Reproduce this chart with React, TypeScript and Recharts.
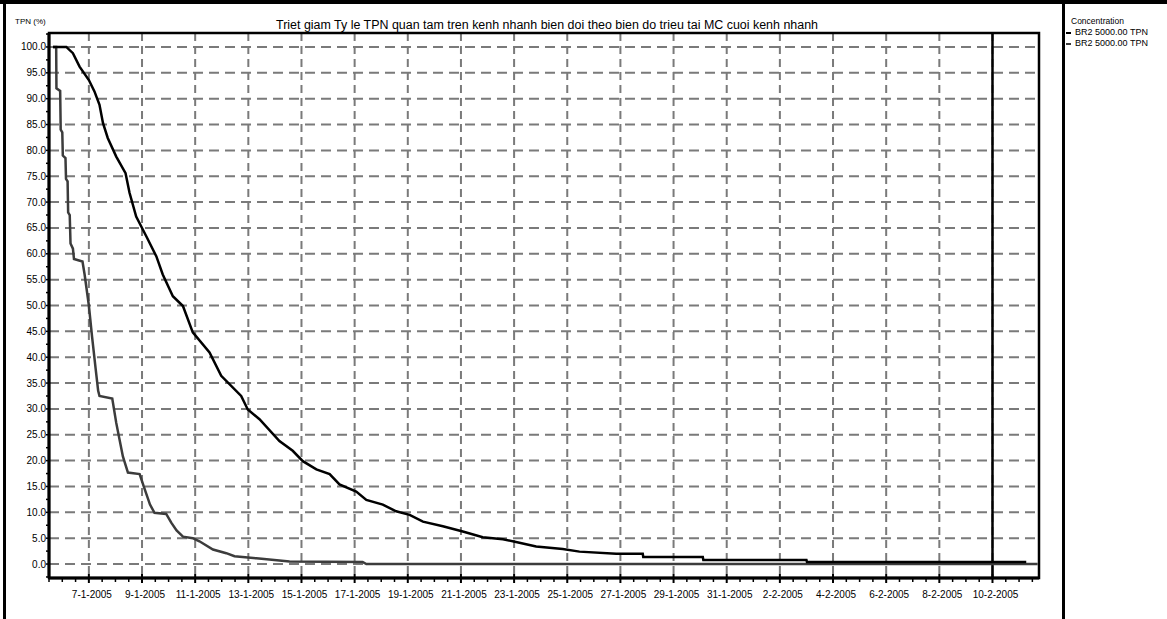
import { CartesianGrid, Line, LineChart, ReferenceArea, ReferenceLine, XAxis, YAxis } from "recharts";

const FONT = "'Liberation Sans', Arial, sans-serif";

const chartTitle =
  "Triet giam Ty le TPN quan tam tren kenh nhanh bien doi theo bien do trieu tai MC cuoi kenh nhanh";
const yAxisTitle = "TPN (%)";
const legendTitle = "Concentration";
const seriesNames = ["BR2 5000.00 TPN", "BR2 5000.00 TPN"];
const seriesColors = ["#000000", "#3c3c3c"];

// x is the day counted from 1-1-2005 (7 = 7-1-2005, 41 = 10-2-2005)
const xTickDays = [7, 9, 11, 13, 15, 17, 19, 21, 23, 25, 27, 29, 31, 33, 35, 37, 39, 41];
const xTickLabels = [
  "7-1-2005", "9-1-2005", "11-1-2005", "13-1-2005", "15-1-2005", "17-1-2005",
  "19-1-2005", "21-1-2005", "23-1-2005", "25-1-2005", "27-1-2005", "29-1-2005",
  "31-1-2005", "2-2-2005", "4-2-2005", "6-2-2005", "8-2-2005", "10-2-2005",
];
const yTickValues = [0, 5, 10, 15, 20, 25, 30, 35, 40, 45, 50, 55, 60, 65, 70, 75, 80, 85, 90, 95, 100];
const nowDay = 41;

// black curve (slow decay)
const seriesSlow = [
  { d: 5.65, v: 100 }, { d: 6.15, v: 100 }, { d: 6.4, v: 98.8 }, { d: 6.65, v: 96.2 },
  { d: 7.0, v: 93.6 }, { d: 7.21, v: 91.4 }, { d: 7.4, v: 88.8 }, { d: 7.53, v: 85.3 },
  { d: 7.71, v: 82.4 }, { d: 8.03, v: 78.8 }, { d: 8.38, v: 75.6 }, { d: 8.53, v: 71.8 },
  { d: 8.78, v: 67.2 }, { d: 9.16, v: 63.4 }, { d: 9.54, v: 59.5 }, { d: 9.78, v: 56 },
  { d: 10.16, v: 51.8 }, { d: 10.54, v: 49.9 }, { d: 10.91, v: 44.8 }, { d: 11.54, v: 40.9 },
  { d: 11.98, v: 36.4 }, { d: 12.73, v: 32.5 }, { d: 12.98, v: 29.9 }, { d: 13.42, v: 28 },
  { d: 14.17, v: 23.8 }, { d: 14.67, v: 21.9 }, { d: 15.05, v: 19.9 }, { d: 15.56, v: 18.3 },
  { d: 16.06, v: 17.4 }, { d: 16.43, v: 15.4 }, { d: 17.06, v: 14.0 }, { d: 17.44, v: 12.4 },
  { d: 18.06, v: 11.5 }, { d: 18.56, v: 10.2 }, { d: 19.07, v: 9.5 }, { d: 19.57, v: 8.2 },
  { d: 20.32, v: 7.3 }, { d: 21.07, v: 6.3 }, { d: 21.82, v: 5.2 }, { d: 22.58, v: 4.8 },
  { d: 23.2, v: 4.1 }, { d: 23.83, v: 3.4 }, { d: 24.83, v: 2.9 }, { d: 25.46, v: 2.4 },
  { d: 26.84, v: 2.0 }, { d: 27.84, v: 2.0 }, { d: 27.86, v: 1.35 }, { d: 30.1, v: 1.35 },
  { d: 30.12, v: 0.8 }, { d: 34.0, v: 0.8 }, { d: 34.02, v: 0.4 }, { d: 42.27, v: 0.4 },
];

// dark grey curve (fast decay)
const seriesFast = [
  { d: 5.65, v: 100 }, { d: 5.77, v: 100 }, { d: 5.78, v: 92 }, { d: 5.92, v: 91.5 },
  { d: 5.94, v: 84 }, { d: 6.0, v: 83.5 }, { d: 6.02, v: 79 }, { d: 6.12, v: 78.5 },
  { d: 6.14, v: 74.5 }, { d: 6.2, v: 74 }, { d: 6.22, v: 68 }, { d: 6.28, v: 67.5 },
  { d: 6.31, v: 62 }, { d: 6.4, v: 61 }, { d: 6.44, v: 59 }, { d: 6.76, v: 58.5 },
  { d: 6.84, v: 56 }, { d: 7.0, v: 50 }, { d: 7.12, v: 44 }, { d: 7.25, v: 38 },
  { d: 7.35, v: 33.5 }, { d: 7.4, v: 32.5 }, { d: 7.88, v: 32 }, { d: 8.03, v: 27.3 },
  { d: 8.28, v: 20.8 }, { d: 8.47, v: 17.7 }, { d: 8.91, v: 17.4 }, { d: 9.1, v: 14.5 },
  { d: 9.3, v: 11.5 }, { d: 9.47, v: 9.9 }, { d: 9.91, v: 9.7 }, { d: 10.1, v: 8 },
  { d: 10.3, v: 6.5 }, { d: 10.54, v: 5.3 }, { d: 10.91, v: 5.0 }, { d: 11.16, v: 4.4 },
  { d: 11.67, v: 2.8 }, { d: 12.17, v: 2.1 }, { d: 12.48, v: 1.5 }, { d: 13.3, v: 1.1 },
  { d: 13.5, v: 1.0 }, { d: 14.55, v: 0.5 }, { d: 17.3, v: 0.4 }, { d: 17.44, v: 0 },
  { d: 42.7, v: 0 },
];

const X_DOMAIN: [number, number] = [5.5, 42.75];
const Y_DOMAIN: [number, number] = [-2.7, 102.7];

const xAllTicks: number[] = [];
for (let t = 5.5; t <= 42.5; t += 0.5) xAllTicks.push(t);
const yAllTicks: number[] = [];
for (let t = -2.5; t <= 102.5; t += 2.5) yAllTicks.push(t);

function XTick(props: any) {
  const { x, y, payload } = props;
  const idx = xTickDays.indexOf(payload.value);
  if (idx < 0) {
    return <line x1={x} x2={x} y1={y + 1} y2={y + 4} stroke="#000" strokeWidth={1.5} />;
  }
  return (
    <g>
      <line x1={x} x2={x} y1={y - 4} y2={y + 5} stroke="#000" strokeWidth={2} />
      <text x={x + 3} y={y + 20} textAnchor="middle" fontSize={10} fontFamily={FONT} fill="#000">
        {xTickLabels[idx]}
      </text>
    </g>
  );
}

function YTick(props: any) {
  const { x, y, payload } = props;
  const v = payload.value as number;
  const major = Math.abs(v % 5) < 1e-6;
  return (
    <g>
      <line x1={x - 3} x2={x} y1={y} y2={y} stroke="#000" strokeWidth={1.5} />
      {major && v >= 0 && v <= 100 && (
        <text x={x - 3} y={y + 3.5} textAnchor="end" fontSize={10} fontFamily={FONT} fill="#000">
          {v.toFixed(1)}
        </text>
      )}
    </g>
  );
}

export default function App() {
  return (
    <div style={{ position: "absolute", left: 0, top: 0, width: 1167, height: 619, background: "#fff" }}>
      <LineChart width={1167} height={619} margin={{ top: 33, right: 128, bottom: 0, left: 0 }}>
        <CartesianGrid
          vertical={false}
          horizontalValues={yTickValues}
          stroke="#7a7a7a"
          strokeWidth={2}
          strokeDasharray="10 6"
        />
        <CartesianGrid
          horizontal={false}
          verticalValues={xTickDays}
          stroke="#7a7a7a"
          strokeWidth={2}
          strokeDasharray="8 5"
        />
        <XAxis
          type="number"
          dataKey="d"
          domain={X_DOMAIN}
          ticks={xAllTicks}
          interval={0}
          height={41}
          tickSize={0}
          tickMargin={0}
          tick={XTick}
          tickLine={false}
          axisLine={{ stroke: "#000", strokeWidth: 3 }}
          allowDataOverflow
        />
        <YAxis
          type="number"
          domain={Y_DOMAIN}
          ticks={yAllTicks}
          interval={0}
          width={49}
          tickSize={0}
          tickMargin={0}
          tick={YTick}
          tickLine={false}
          axisLine={{ stroke: "#000", strokeWidth: 3 }}
          allowDataOverflow
        />
        <ReferenceArea
          x1={X_DOMAIN[0]}
          x2={X_DOMAIN[1]}
          y1={Y_DOMAIN[0]}
          y2={Y_DOMAIN[1]}
          fill="none"
          fillOpacity={0}
          stroke="#000"
          strokeWidth={2.5}
        />
        <ReferenceLine x={nowDay} stroke="#000" strokeWidth={2.5} />
        <Line
          data={seriesFast}
          dataKey="v"
          name={seriesNames[1]}
          stroke={seriesColors[1]}
          strokeWidth={2.5}
          dot={false}
          type="linear"
          isAnimationActive={false}
        />
        <Line
          data={seriesSlow}
          dataKey="v"
          name={seriesNames[0]}
          stroke={seriesColors[0]}
          strokeWidth={2.5}
          dot={false}
          type="linear"
          isAnimationActive={false}
        />
      </LineChart>

      <svg width={1167} height={619} style={{ position: "absolute", left: 0, top: 0, pointerEvents: "none" }}>
        <text x={15} y={24} fontSize={8} fontFamily={FONT} fill="#000">
          {yAxisTitle}
        </text>
        <text x={276} y={29} fontSize={12} fontFamily={FONT} fill="#000" textLength={542} lengthAdjust="spacingAndGlyphs">
          {chartTitle}
        </text>
      </svg>

      <div style={{ position: "absolute", left: 0, top: 0, width: 1167, height: 4, background: "#000" }} />
      <div style={{ position: "absolute", left: 3, top: 0, width: 3, height: 619, background: "#000" }} />
      <div style={{ position: "absolute", left: 1062, top: 0, width: 3, height: 619, background: "#000" }} />

      <div style={{ position: "absolute", left: 1066, top: 15, fontFamily: FONT, color: "#000" }}>
        <div style={{ fontSize: 8.5, lineHeight: "12px", paddingLeft: 5 }}>{legendTitle}</div>
        {seriesNames.map((name, i) => (
          <div key={i} style={{ display: "flex", alignItems: "center", fontSize: 9, lineHeight: "11px" }}>
            <span style={{ width: 5, height: 2, background: seriesColors[i], marginRight: 4, display: "inline-block" }} />
            {name}
          </div>
        ))}
      </div>
    </div>
  );
}
